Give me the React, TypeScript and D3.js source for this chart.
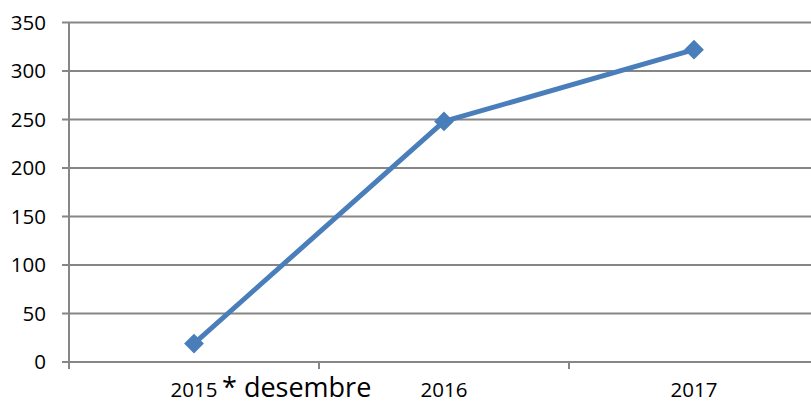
import React from "react";
import * as d3 from "d3";

const categories = ["2015", "2016", "2017"];
const values = [19, 248, 322];
const yTicks = [0, 50, 100, 150, 200, 250, 300, 350];
const annotation = "* desembre";

export default function App() {
  const W = 811, H = 401;
  const x = d3.scaleBand<string>().domain(categories).range([69, 819]);
  const y = d3.scaleLinear().domain([0, 350]).range([362, 22.5]);
  const cx = (c: string) => (x(c) as number) + x.bandwidth() / 2;
  const line = d3.line<number>().x((_, i) => cx(categories[i])).y((d) => y(d));
  const grid = "#868686";
  const blue = "#4A7EBB";
  const font = "'Open Sans', sans-serif";
  const bounds = [69, ...categories.map((c) => (x(c) as number) + x.bandwidth())];
  return (
    <svg width={W} height={H} style={{ position: "absolute", left: 0, top: 0, background: "#fff" }}>
      {yTicks.map((t) => (
        <g key={t}>
          <line x1={62} x2={W} y1={y(t)} y2={y(t)} stroke={grid} strokeWidth={2} />
          <text x={46} y={y(t)} dy="0.36em" textAnchor="end" fontFamily={font} fontSize={20.5} fill="#000">{t}</text>
        </g>
      ))}
      <line x1={69} x2={69} y1={y(350)} y2={369} stroke={grid} strokeWidth={2} />
      {bounds.map((b, i) => (
        <line key={i} x1={b} x2={b} y1={362} y2={369} stroke={grid} strokeWidth={2} />
      ))}
      {categories.map((c) => (
        <text key={c} x={cx(c)} y={397} textAnchor="middle" fontFamily={font} fontSize={20.5} fill="#000">{c}</text>
      ))}
      <text x={222} y={397} fontFamily={font} fontSize={27} fill="#000">{annotation}</text>
      <path d={line(values) || ""} fill="none" stroke={blue} strokeWidth={5} strokeLinejoin="round" />
      {values.map((v, i) => {
        const px = cx(categories[i]), py = y(v);
        return <rect key={i} x={px - 7} y={py - 7} width={14} height={14} fill={blue} transform={`rotate(45 ${px} ${py})`} />;
      })}
    </svg>
  );
}
